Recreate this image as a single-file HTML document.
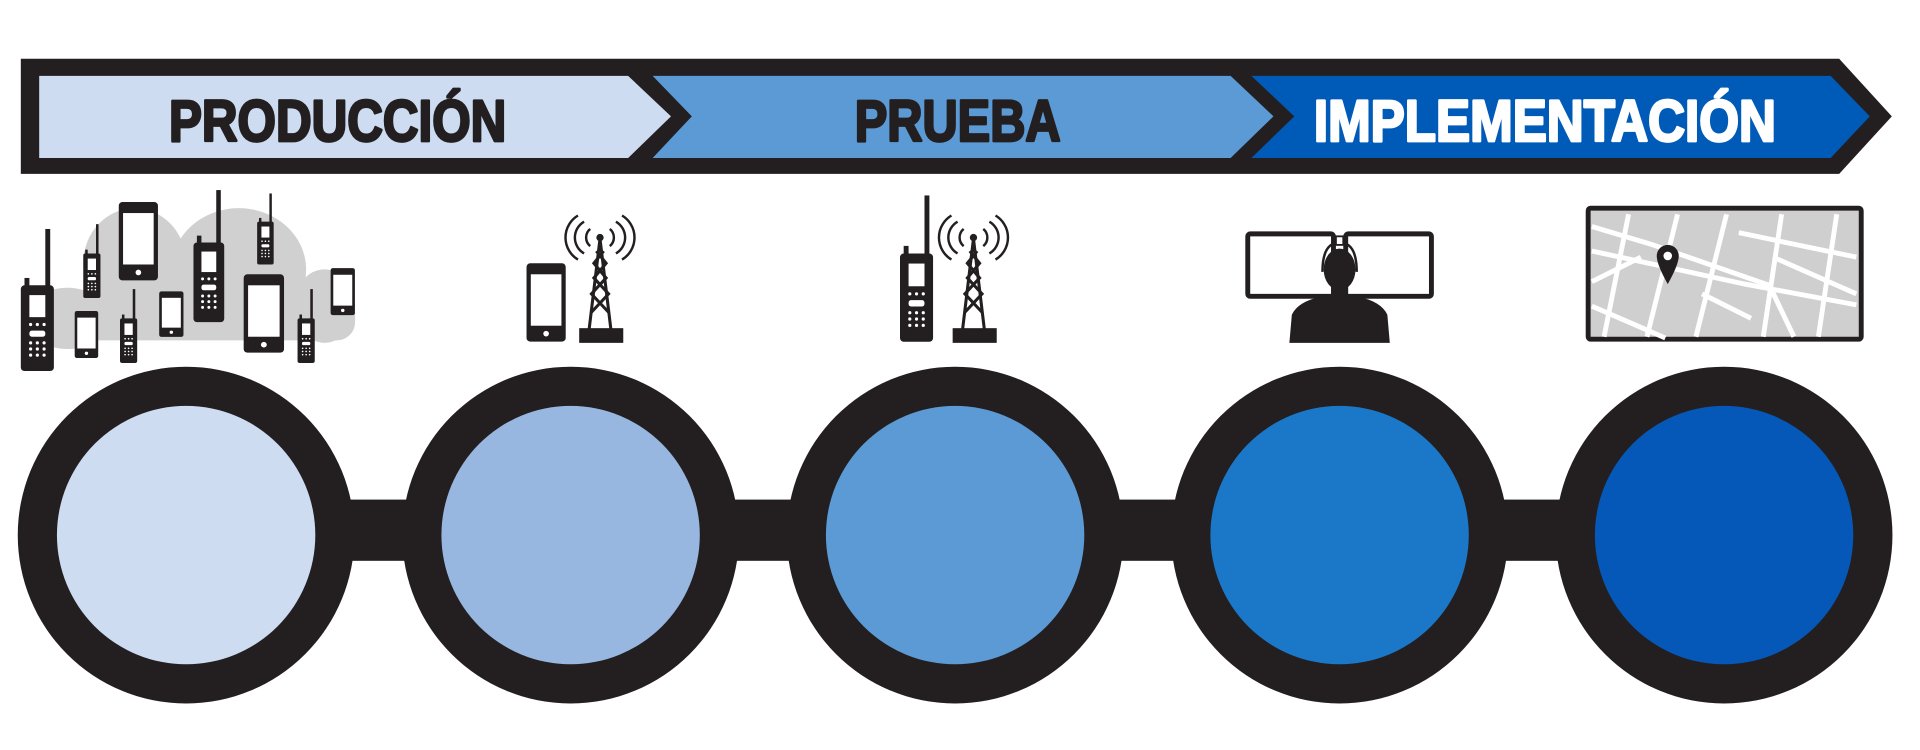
<!DOCTYPE html>
<html><head><meta charset="utf-8"><style>html,body{margin:0;padding:0;background:#fff}svg{display:block}</style></head>
<body>
<svg width="1920" height="750" viewBox="0 0 1568 612.5" preserveAspectRatio="none" xmlns="http://www.w3.org/2000/svg">
<defs>
<g id="ph"><rect x="0" y="0" width="32" height="64" rx="3" fill="#231f20"/><rect x="3.5" y="9" width="25" height="42" fill="#fff"/><circle cx="16" cy="57.5" r="2.3" fill="#fff"/></g>
<g id="rd"><rect x="20" y="-46" width="4" height="52" fill="#231f20"/><rect x="0" y="0" width="27" height="70" rx="3" fill="#231f20"/><rect x="3" y="-6" width="4" height="8" fill="#231f20"/><rect x="7" y="8" width="13" height="18" fill="#fff"/>
<g fill="#fff"><circle cx="8" cy="32" r="1.3"/><circle cx="13.5" cy="32" r="1.3"/><circle cx="19" cy="32" r="1.3"/><rect x="7" y="37" width="13" height="5" rx="2"/><circle cx="8" cy="47" r="1.3"/><circle cx="13.5" cy="47" r="1.3"/><circle cx="19" cy="47" r="1.3"/><circle cx="8" cy="52" r="1.3"/><circle cx="13.5" cy="52" r="1.3"/><circle cx="19" cy="52" r="1.3"/><circle cx="8" cy="57" r="1.3"/><circle cx="13.5" cy="57" r="1.3"/><circle cx="19" cy="57" r="1.3"/></g></g>
<g id="tw" fill="none" stroke="#231f20" stroke-width="2.5"><polyline points="8,85 17,10 26,85"/><path d="M10,70 L24,55 L12,42 L22,30 L14,20 M24,70 L10,55 L22,42 L12,30 L20,20"/><rect x="0" y="83" width="36" height="12" fill="#231f20" stroke="none"/><circle cx="17" cy="9" r="3" fill="#231f20" stroke="none"/>
<path d="M9,2 A9,9 0 0 0 9,16 M25,2 A9,9 0 0 1 25,16 M4,-4 A15,15 0 0 0 4,22 M30,-4 A15,15 0 0 1 30,22 M-1,-9 A21,21 0 0 0 -1,27 M35,-9 A21,21 0 0 1 35,27" stroke-width="2"/></g>
</defs>
<!-- banner -->
<polygon points="17,48 1502,48 1545,95 1502,142 17,142" fill="#231f20"/>
<polygon points="32,62 513,62 548,95 513,129 32,129" fill="#cddcf0"/>
<polygon points="533,62 1005,62 1040,95 1005,129 533,129 565,95" fill="#5b9ad4"/>
<polygon points="1022,62 1495,62 1527,95 1495,129 1022,129 1057,95" fill="#005bb8"/>
<g font-family="'Liberation Sans',sans-serif" font-weight="bold" font-size="48" stroke-width="2.2" stroke-linejoin="round">
<text transform="translate(138,115) scale(0.84,1)" fill="#231f20" stroke="#231f20">PRODUCCIÓN</text>
<text transform="translate(698,115) scale(0.83,1)" fill="#231f20" stroke="#231f20">PRUEBA</text>
<text transform="translate(1073,115) scale(0.87,1)" fill="#fff" stroke="#fff">IMPLEMENTACIÓN</text>
</g>
<!-- circles -->
<rect x="150" y="408" width="1260" height="50" fill="#231f20"/>
<g fill="#231f20"><circle cx="152" cy="437" r="137.5"/><circle cx="466" cy="437" r="137.5"/><circle cx="780" cy="437" r="137.5"/><circle cx="1094" cy="437" r="137.5"/><circle cx="1408" cy="437" r="137.5"/></g>
<circle cx="152" cy="437" r="105.5" fill="#cddcf0"/>
<circle cx="466" cy="437" r="105.5" fill="#97b7e0"/>
<circle cx="780" cy="437" r="105.5" fill="#5b9ad4"/>
<circle cx="1094" cy="437" r="105.5" fill="#1b78c8"/>
<circle cx="1408" cy="437" r="105.5" fill="#0558b8"/>
<!-- cluster 1 -->
<g fill="#d0d0d0"><ellipse cx="110" cy="215" rx="42" ry="45"/><ellipse cx="195" cy="220" rx="55" ry="50"/><ellipse cx="265" cy="250" rx="25" ry="30"/><rect x="20" y="240" width="270" height="38" rx="15"/><ellipse cx="55" cy="260" rx="35" ry="25"/></g>
<use href="#rd" x="17" y="233"/>
<use href="#ph" x="97" y="165"/>
<g transform="translate(68,207) scale(0.52)"><use href="#rd"/></g>
<g transform="translate(158,198) scale(0.93)"><use href="#rd"/></g>
<g transform="translate(210,181) scale(0.5)"><use href="#rd"/></g>
<g transform="translate(98,260) scale(0.52)"><use href="#rd"/></g>
<g transform="translate(243,260) scale(0.52)"><use href="#rd"/></g>
<g transform="translate(270,219) scale(0.62,0.6)"><use href="#ph"/></g>
<g transform="translate(61,254) scale(0.6)"><use href="#ph"/></g>
<g transform="translate(130,238) scale(0.62,0.58)"><use href="#ph"/></g>
<g transform="translate(199,224) scale(1.03,1)"><use href="#ph"/></g>
<!-- cluster 2 -->
<use href="#ph" x="430" y="215"/>
<use href="#tw" x="473" y="185"/>
<!-- cluster 3 -->
<g transform="translate(735,207) scale(1,1.03)"><use href="#rd"/></g>
<use href="#tw" x="778" y="185"/>
<!-- cluster 4 -->
<rect x="1019" y="191" width="70" height="51" fill="#fff" stroke="#231f20" stroke-width="4" rx="2"/>
<rect x="1099" y="191" width="70" height="51" fill="#fff" stroke="#231f20" stroke-width="4" rx="2"/>
<path d="M1053,280 L1055,257 Q1060,246 1080,242 L1108,242 Q1128,246 1133,257 L1135,280 Z" fill="#231f20"/>
<ellipse cx="1094" cy="220" rx="13" ry="17" fill="#231f20"/>
<rect x="1088" y="232" width="12" height="12" fill="#231f20"/>
<path d="M1080,222 Q1080,198 1094,198 Q1108,198 1108,222" fill="none" stroke="#231f20" stroke-width="2"/>
<rect x="1091" y="193" width="6" height="7" fill="#fff" stroke="#231f20" stroke-width="1.5"/>
<!-- map -->
<rect x="1297" y="170" width="223" height="107" fill="#cfcfcf" stroke="#231f20" stroke-width="4" rx="2"/>
<g stroke="#fff" stroke-width="4" fill="none">
<path d="M1300,205 L1425,232 L1516,249"/><path d="M1330,175 L1310,275"/><path d="M1370,175 L1345,275"/><path d="M1410,175 L1385,275"/><path d="M1455,175 L1440,275"/><path d="M1500,175 L1485,275"/><path d="M1300,250 L1360,276"/><path d="M1420,190 L1516,210"/><path d="M1300,185 L1350,200 L1445,233"/><path d="M1445,233 L1465,275"/><path d="M1300,230 L1340,210"/><path d="M1448,210 L1516,240"/><path d="M1390,240 L1430,260"/></g>
<path d="M1362,232 Q1353,216 1353,209 A9,9 0 0 1 1371,209 Q1371,216 1362,232 Z" fill="#231f20"/>
<circle cx="1362" cy="209" r="3.5" fill="#fff"/>
</svg>
</body></html>
